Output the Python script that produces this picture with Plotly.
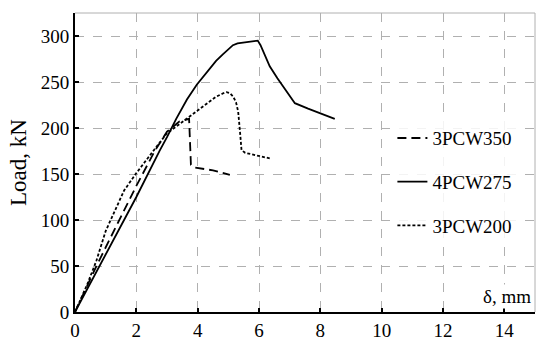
import plotly.graph_objects as go

# 3PCW350 - long dash
d_350 = [0, 0.7, 1.4, 2.0, 2.6, 3.0, 3.4, 3.72, 3.75, 3.78, 3.9, 4.5, 5.05]
p_350 = [0, 50, 97, 137, 175, 196, 207, 210, 185, 160, 157, 154, 149]

# 4PCW275 - solid
d_275 = [0, 1.0, 2.0, 2.77, 3.0, 3.3, 3.65, 3.97, 4.3, 4.6, 4.82, 5.0, 5.15, 5.3, 5.5, 5.8, 5.96,
         6.05, 6.2, 6.35, 6.6, 6.9, 7.17, 7.6, 8.0, 8.47]
p_275 = [0, 62, 125, 176, 190, 210, 231, 247, 261, 273, 280, 286, 290, 292, 293, 294, 295,
         290, 278, 267, 254, 240, 227, 221, 216, 210]

# 3PCW200 - short dash
d_200 = [0, 0.4, 0.7, 1.0, 1.3, 1.6, 2.0, 2.5, 2.99, 3.64, 4.2, 4.6, 4.85, 4.94, 5.05, 5.16, 5.25,
         5.32, 5.38, 5.43, 5.55, 6.35]
p_200 = [0, 30, 56, 88, 110, 132, 151, 173, 194, 210, 224, 234, 238, 239, 238, 234, 228,
         218, 196, 176, 173, 167]

series = [
    ("3PCW350", d_350, p_350, "9px,5px"),
    ("4PCW275", d_275, p_275, "solid"),
    ("3PCW200", d_200, p_200, "3px,2px"),
]

fig = go.Figure()
for name, x, y, dash in series:
    fig.add_trace(go.Scatter(
        x=x, y=y, mode="lines", name=name, legendgroup=name,
        line=dict(color="black", width=1.8, dash=dash)
    ))

fig.update_layout(
    width=550, height=348,
    margin=dict(l=75, r=15, t=13, b=36),
    paper_bgcolor="white", plot_bgcolor="white",
    font=dict(family="Liberation Serif", size=19, color="black"),
    showlegend=True,
    legend=dict(
        x=0.69, y=0.645, xanchor="left", yanchor="top",
        bgcolor="rgba(255,255,255,0.85)",
        font=dict(size=19), tracegroupgap=16,
    ),
    annotations=[dict(
        text="δ, mm", x=1, y=0, xref="paper", yref="paper",
        xanchor="right", yanchor="bottom", showarrow=False,
        xshift=-2, yshift=3, font=dict(size=19), bgcolor="white"
    )],
)

fig.update_xaxes(
    range=[0, 15], tickvals=[0, 2, 4, 6, 8, 10, 12, 14],
    showgrid=True, gridcolor="#b0b0b0", griddash="dash", gridwidth=1,
    showline=True, linecolor="black", linewidth=2,
    ticks="inside", ticklen=4, tickwidth=2, tickcolor="black",
    zeroline=False, automargin=False,
)
fig.update_yaxes(
    range=[0, 325], tickvals=[0, 50, 100, 150, 200, 250, 300],
    title=dict(text="Load, kN", standoff=8),
    showgrid=True, gridcolor="#b0b0b0", griddash="dash", gridwidth=1,
    showline=True, linecolor="black", linewidth=2,
    ticks="inside", ticklen=4, tickwidth=2, tickcolor="black",
    zeroline=False, automargin=False,
)
# light frame at top and right of plot area
fig.add_shape(type="line", xref="paper", yref="paper", x0=0, x1=1, y0=1, y1=1,
              line=dict(color="#b0b0b0", width=1))
fig.add_shape(type="line", xref="paper", yref="paper", x0=1, x1=1, y0=0, y1=1,
              line=dict(color="#b0b0b0", width=1))

fig.write_html("out.html", config={"displayModeBar": False},
               post_script="document.body.style.margin='0';")
